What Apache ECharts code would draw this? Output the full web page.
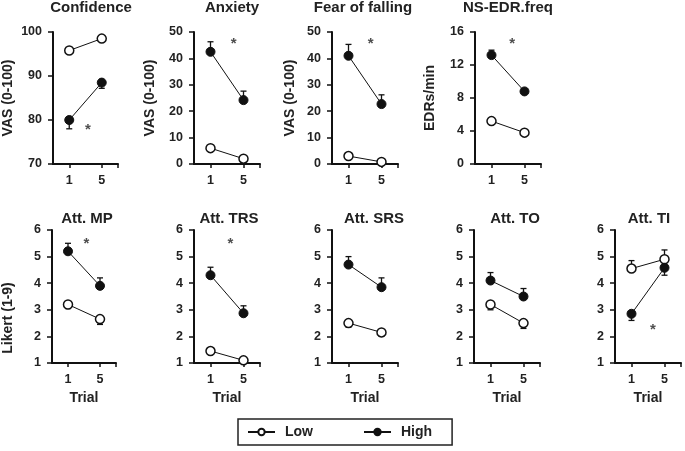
<!DOCTYPE html>
<html>
<head>
<meta charset="utf-8">
<script src="https://cdn.jsdelivr.net/npm/echarts@6/dist/echarts.min.js"></script>
<style>html,body{margin:0;padding:0;background:#fff}#c{width:685px;height:451px}</style>
</head>
<body>
<div id="c"></div>
<script>
// ---- data ----
const trials = [1, 5];
const panelTitles = ['Confidence', 'Anxiety', 'Fear of falling', 'NS-EDR.freq', 'Att. MP', 'Att. TRS', 'Att. SRS', 'Att. TO', 'Att. TI'];
const yNames = ['VAS (0-100)', 'VAS (0-100)', 'VAS (0-100)', 'EDRs/min', 'Likert (1-9)', '', '', '', ''];
const yMin = [70, 0, 0, 0, 1, 1, 1, 1, 1];
const yMax = [100, 50, 50, 16, 6, 6, 6, 6, 6];
const yInterval = [10, 10, 10, 4, 1, 1, 1, 1, 1];
const lowMeans = [[95.8, 98.5], [6, 2], [3, 0.8], [5.2, 3.8], [3.2, 2.65], [1.45, 1.1], [2.5, 2.15], [3.2, 2.5], [4.55, 4.9]];
const lowErrEnds = [[95.8, 98.5], [6, 2], [3, 0.8], [5.2, 3.8], [3.05, 2.45], [1.45, 1.1], [2.35, 2.0], [3.0, 2.3], [4.85, 5.25]];
const highMeans = [[80, 88.5], [42.5, 24.2], [41, 22.7], [13.2, 8.8], [5.2, 3.9], [4.3, 2.87], [4.7, 3.85], [4.1, 3.5], [2.85, 4.58]];
const highErrEnds = [[78, 87.2], [46.3, 27.6], [45.3, 26.2], [13.8, 9.1], [5.5, 4.2], [4.6, 3.15], [5.0, 4.2], [4.4, 3.8], [2.6, 4.3]];
const starX = [3.3, 3.8, 3.7, 3.5, 3.3, 3.4, null, null, 3.6];
const starY = [78, 45.8, 45.8, 14.7, 5.5, 5.5, null, null, 2.3];
const xTickValues = [1, 5, 7];
const xLabelValues = [1, 5];

// ---- layout ----
const FONT = 'Liberation Sans, Arial, sans-serif';
const gridLeft = [52, 194, 332, 475, 50, 194, 332, 474, 615];
const gridTop = [32, 32, 32, 32, 230, 230, 230, 230, 230];
const gridH = [132, 132, 132, 132, 133, 133, 133, 133, 133];
const gridW = 66;
const nameGaps = [38, 37, 35, 38, 37, 0, 0, 0, 0];
const titleX = [91, 232, 363, 508, 87, 229, 374, 515, 649];
const titleY = [7, 7, 7, 7, 218, 218, 218, 218, 218];

const grids = [], xAxes = [], yAxes = [], series = [], graphics = [];
for (let i = 0; i < 9; i++) {
  const bottomRow = i >= 4;
  grids.push({ left: gridLeft[i], top: gridTop[i], width: gridW, height: gridH[i], containLabel: false });
  xAxes.push({
    type: 'value', gridIndex: i, min: -1, max: 7,
    name: bottomRow ? 'Trial' : '', nameLocation: 'middle', nameGap: 28,
    nameTextStyle: { fontFamily: FONT, fontWeight: 'bold', fontSize: 14, color: '#222' },
    axisLine: { show: true, onZero: false, lineStyle: { color: '#111', width: 2 } },
    axisTick: { show: true, customValues: xTickValues, length: 4, lineStyle: { color: '#111', width: 1.5 } },
    axisLabel: { show: true, customValues: xLabelValues, margin: 10, fontFamily: FONT, fontWeight: 'bold', fontSize: 12.5, color: '#222' },
    splitLine: { show: false }
  });
  yAxes.push({
    type: 'value', gridIndex: i, min: yMin[i], max: yMax[i], interval: yInterval[i],
    name: yNames[i], nameLocation: 'middle', nameGap: nameGaps[i],
    nameTextStyle: { fontFamily: FONT, fontWeight: 'bold', fontSize: 14, color: '#222',
      padding: i === 4 ? [0, 43, 0, 0] : 0 },
    axisLine: { show: true, onZero: false, lineStyle: { color: '#111', width: 2 } },
    axisTick: { show: true, length: 5, lineStyle: { color: '#111', width: 1.5 } },
    axisLabel: { margin: 11, fontFamily: FONT, fontWeight: 'bold', fontSize: 12.5, color: '#222' },
    splitLine: { show: false }
  });
  graphics.push({
    type: 'text', x: titleX[i], y: titleY[i] + 1,
    style: { text: panelTitles[i], x: 0, y: 0, align: 'center', verticalAlign: 'middle',
      font: 'bold 15px ' + FONT, fill: '#222' }
  });
  // error bars
  const errData = [];
  for (let j = 0; j < trials.length; j++) {
    errData.push([trials[j], lowMeans[i][j], lowErrEnds[i][j]]);
    errData.push([trials[j], highMeans[i][j], highErrEnds[i][j]]);
  }
  series.push({
    type: 'custom', name: 'err' + i, xAxisIndex: i, yAxisIndex: i, z: 1,
    encode: { x: 0, y: [1, 2] }, data: errData, silent: true,
    renderItem: function (params, api) {
      const x = api.value(0), m = api.value(1), e = api.value(2);
      if (m === e) return null;
      const p0 = api.coord([x, m]), p1 = api.coord([x, e]);
      const hw = 3;
      return { type: 'group', children: [
        { type: 'line', shape: { x1: p0[0], y1: p0[1], x2: p1[0], y2: p1[1] }, style: { stroke: '#111', lineWidth: 1.3 } },
        { type: 'line', shape: { x1: p1[0] - hw, y1: p1[1], x2: p1[0] + hw, y2: p1[1] }, style: { stroke: '#111', lineWidth: 1.3 } }
      ] };
    }
  });
  series.push({
    type: 'line', name: 'Low', xAxisIndex: i, yAxisIndex: i, z: 3,
    data: trials.map((t, j) => [t, lowMeans[i][j]]),
    symbol: 'circle', symbolSize: 9, showSymbol: true,
    lineStyle: { color: '#111', width: 1 },
    itemStyle: { color: '#fff', borderColor: '#111', borderWidth: 1.5 }
  });
  series.push({
    type: 'line', name: 'High', xAxisIndex: i, yAxisIndex: i, z: 4,
    data: trials.map((t, j) => [t, highMeans[i][j]]),
    symbol: 'circle', symbolSize: 9, showSymbol: true,
    lineStyle: { color: '#111', width: 1 },
    itemStyle: { color: '#111', borderColor: '#111', borderWidth: 1 }
  });
  if (starX[i] !== null) {
    series.push({
      type: 'scatter', name: 'star' + i, xAxisIndex: i, yAxisIndex: i, z: 5, silent: true,
      symbolSize: 0, data: [[starX[i], starY[i]]],
      label: { show: true, position: 'inside', formatter: '*', offset: [0, 1],
        fontFamily: FONT, fontWeight: 'bold', fontSize: 15, color: '#222' }
    });
  }
}

const chart = echarts.init(document.getElementById('c'), null, { renderer: 'canvas' });
chart.setOption({
  animation: false,
  backgroundColor: '#fff',
  grid: grids, xAxis: xAxes, yAxis: yAxes, series: series,
  graphic: graphics,
  legend: {
    data: ['Low', 'High'], left: 238, top: 419, orient: 'horizontal',
    borderColor: '#222', borderWidth: 1.5, borderRadius: 0,
    padding: [6, 20, 6, 9], itemWidth: 27, itemHeight: 8, itemGap: 50,
    textStyle: { fontFamily: FONT, fontWeight: 'bold', fontSize: 14, color: '#222', padding: [0, 0, 0, 5] },
    selectedMode: false
  }
});
</script>
</body>
</html>
